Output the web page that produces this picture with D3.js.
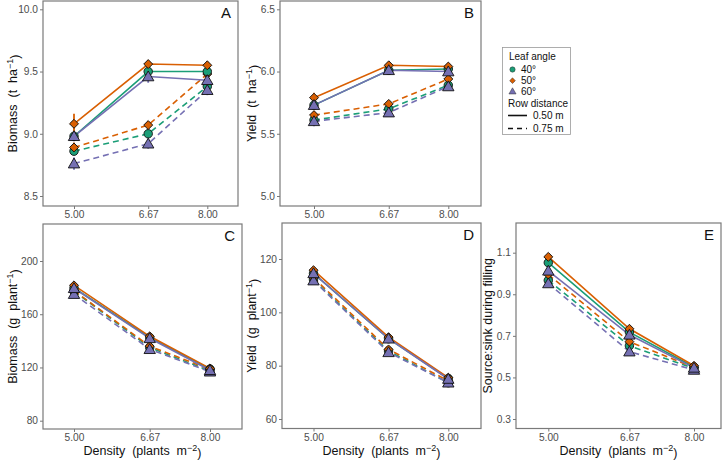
<!DOCTYPE html>
<html><head><meta charset="utf-8">
<script src="https://cdn.jsdelivr.net/npm/d3@7"></script>
<style>
html,body{margin:0;padding:0;background:#fff;}
svg{display:block;font-family:"Liberation Sans",Arial,Helvetica,sans-serif;}
</style></head>
<body>
<svg id="chart" width="723" height="461"></svg>
<script>
// ---------- data ----------
const densities = [5.00, 6.67, 8.00];
const xTickLabels = ["5.00", "6.67", "8.00"];
const leafAngles = ["40°", "50°", "60°"];
const rowDistances = ["0.50 m", "0.75 m"];

// rows: leaf angle 40°, 50°, 60°; columns: density 5.00, 6.67, 8.00
// Panel A: Biomass (t ha-1)
const biomassHa050 = [[8.98, 9.50, 9.50], [9.08, 9.56, 9.55], [8.98, 9.46, 9.43]];
const biomassHa075 = [[8.86, 9.00, 9.38], [8.89, 9.07, 9.48], [8.76, 8.92, 9.35]];
const biomassHaErr050 = [[0.03, 0.04, 0.03], [0.08, 0.03, 0.03], [0.04, 0.05, 0.03]];
const biomassHaErr075 = [[0.03, 0.03, 0.03], [0.04, 0.03, 0.05], [0.05, 0.04, 0.04]];
// Panel B: Yield (t ha-1)
const yieldHa050 = [[5.73, 6.01, 6.02], [5.79, 6.05, 6.04], [5.73, 6.01, 6.00]];
const yieldHa075 = [[5.61, 5.70, 5.89], [5.65, 5.74, 5.94], [5.60, 5.67, 5.88]];
const yieldHaErr050 = [[0.03, 0.02, 0.02], [0.04, 0.02, 0.02], [0.03, 0.03, 0.02]];
const yieldHaErr075 = [[0.03, 0.02, 0.02], [0.03, 0.02, 0.02], [0.04, 0.03, 0.02]];
// Panel C: Biomass (g plant-1)
const biomassPl050 = [[179.7, 142.5, 118.8], [181.7, 143.4, 119.3], [179.5, 141.9, 117.9]];
const biomassPl075 = [[177.3, 135.0, 117.3], [177.7, 136.0, 118.5], [175.1, 133.7, 116.8]];
// Panel D: Yield (g plant-1)
const yieldPl050 = [[114.6, 90.1, 75.2], [115.8, 90.7, 75.5], [114.6, 90.1, 75.0]];
const yieldPl075 = [[112.2, 85.5, 73.6], [113.0, 86.1, 74.3], [111.9, 85.0, 73.6]];
// Panel E: Source:sink during filling
const sourceSink050 = [[1.052, 0.718, 0.550], [1.080, 0.734, 0.556], [1.013, 0.705, 0.546]];
const sourceSink075 = [[0.967, 0.652, 0.543], [0.995, 0.672, 0.548], [0.952, 0.624, 0.536]];

const yTicksA = [8.5, 9.0, 9.5, 10.0];
const yTicksB = [5.0, 5.5, 6.0, 6.5];
const yTicksC = [80, 120, 160, 200];
const yTicksD = [60, 80, 100, 120];
const yTicksE = [0.3, 0.5, 0.7, 0.9, 1.1];

// ---------- styles ----------
const colors = ["#1b9e77", "#d95f02", "#7570b3"];
const shapes = [d3.symbolCircle, d3.symbolSquare, d3.symbolTriangle];
const shapeSize = [56, 40, 56];
const shapeRot = [0, 45, 0];
const borderCol = "#7a7a7a";
const tickTextCol = "#4d4d4d";

const svg = d3.select("#chart");

const panels = [
  {id: "A", box: [43, 1, 238, 206], xpx: [74, 207.3], ypx: [196, 9.3], yv: [8.5, 10.0], ticks: yTicksA, fmt: ".1f",
   s: biomassHa050, d: biomassHa075, es: biomassHaErr050, ed: biomassHaErr075, title: ["Biomass  (t  ha", "−1", ")"], tx: 13, xtitle: false},
  {id: "B", box: [280, 1, 481, 206], xpx: [314, 448.3], ypx: [196, 9.3], yv: [5.0, 6.5], ticks: yTicksB, fmt: ".1f",
   s: yieldHa050, d: yieldHa075, es: yieldHaErr050, ed: yieldHaErr075, title: ["Yield  (t  ha", "−1", ")"], tx: 252, xtitle: false},
  {id: "C", box: [43, 224, 242, 429], xpx: [74, 210], ypx: [420.7, 261], yv: [80, 200], ticks: yTicksC, fmt: "d",
   s: biomassPl050, d: biomassPl075, title: ["Biomass  (g  plant", "−1", ")"], tx: 13, xtitle: true},
  {id: "D", box: [282, 223, 481, 428.5], xpx: [313.5, 448.3], ypx: [419, 259], yv: [60, 120], ticks: yTicksD, fmt: "d",
   s: yieldPl050, d: yieldPl075, title: ["Yield  (g  plant", "−1", ")"], tx: 252, xtitle: true},
  {id: "E", box: [516, 223, 721, 428.5], xpx: [548.3, 694], ypx: [419, 252.7], yv: [0.3, 1.1], ticks: yTicksE, fmt: ".1f",
   s: sourceSink050, d: sourceSink075, title: ["Source:sink during filling"], tx: 488, xtitle: true}
];

panels.forEach(p => {
  const [x0, y0, x1, y1] = p.box;
  const x = d3.scaleLinear().domain([densities[0], densities[2]]).range(p.xpx);
  const y = d3.scaleLinear().domain(p.yv).range(p.ypx);
  const g = svg.append("g");

  // axes
  const yAxis = d3.axisLeft(y).tickValues(p.ticks).tickFormat(d3.format(p.fmt)).tickSize(3).tickPadding(2);
  const ya = g.append("g").attr("transform", `translate(${x0},0)`).call(yAxis);
  const xAxis = d3.axisBottom(x).tickValues(densities).tickFormat((d, i) => xTickLabels[i]).tickSize(3).tickPadding(2);
  const xa = g.append("g").attr("transform", `translate(0,${y1})`).call(xAxis);
  [ya, xa].forEach(a => {
    a.select(".domain").remove();
    a.selectAll(".tick line").attr("stroke", "#555").attr("stroke-width", 0.8);
    a.selectAll(".tick text").attr("fill", tickTextCol).attr("font-size", 10.2)
      .attr("font-family", "'Liberation Sans', Arial, sans-serif");
  });

  // box
  g.append("rect").attr("x", x0).attr("y", y0).attr("width", x1 - x0).attr("height", y1 - y0)
    .attr("fill", "none").attr("stroke", borderCol).attr("stroke-width", 1.2);

  // panel letter
  g.append("text").attr("x", x1 - 7).attr("y", y0 + 17).attr("text-anchor", "end")
    .attr("font-size", 15).attr("fill", "#111").text(p.id);

  // y title
  const cy = (y0 + y1) / 2;
  const t = g.append("text").attr("transform", `translate(${p.tx},${cy}) rotate(-90)`)
    .attr("text-anchor", "middle").attr("font-size", 12.5).attr("fill", "#111").attr("dy", "0.35em")
    .style("white-space", "pre");
  t.append("tspan").text(p.title[0]);
  if (p.title.length > 1) {
    t.append("tspan").attr("dy", "-0.5em").attr("font-size", 9).text(p.title[1]);
    t.append("tspan").attr("dy", "0.5em").text(p.title[2]);
  }

  // x title
  if (p.xtitle) {
    const xt = g.append("text").attr("x", (x0 + x1) / 2).attr("y", 455).attr("text-anchor", "middle")
      .attr("font-size", 12.5).attr("fill", "#111").style("white-space", "pre");
    xt.append("tspan").text("Density  (plants  m");
    xt.append("tspan").attr("dy", "-0.5em").attr("font-size", 9).text("−2");
    xt.append("tspan").attr("dy", "0.5em").text(")");
  }

  const line = d3.line().x((d, i) => x(densities[i])).y(d => y(d));
  const groups = [
    {vals: p.d, err: p.ed, dash: "6,4"},
    {vals: p.s, err: p.es, dash: null}
  ];
  // lines
  groups.forEach(gr => {
    gr.vals.forEach((v, k) => {
      g.append("path").attr("d", line(v)).attr("fill", "none").attr("stroke", colors[k])
        .attr("stroke-width", 1.6).attr("stroke-dasharray", gr.dash);
    });
  });
  // error bars
  groups.forEach(gr => {
    if (!gr.err) return;
    gr.vals.forEach((v, k) => {
      v.forEach((val, i) => {
        const e = gr.err[k][i];
        g.append("line").attr("x1", x(densities[i])).attr("x2", x(densities[i]))
          .attr("y1", y(val - e)).attr("y2", y(val + e))
          .attr("stroke", colors[k]).attr("stroke-width", 1.8);
      });
    });
  });
  // markers
  groups.forEach(gr => {
    gr.vals.forEach((v, k) => {
      v.forEach((val, i) => {
        g.append("path").attr("d", d3.symbol().type(shapes[k]).size(shapeSize[k])())
          .attr("transform", `translate(${x(densities[i])},${y(val) + (k === 2 ? 1 : 0)}) rotate(${shapeRot[k]})`)
          .attr("fill", colors[k]).attr("stroke", "#111").attr("stroke-width", 0.9);
      });
    });
  });
});

// ---------- legend ----------
const lg = svg.append("g");
lg.append("rect").attr("x", 502.5).attr("y", 47.5).attr("width", 68).attr("height", 87)
  .attr("fill", "#fff").attr("stroke", "#999").attr("stroke-width", 0.8);
lg.append("text").attr("x", 509).attr("y", 60).attr("font-size", 10).attr("fill", "#111").text("Leaf angle");
leafAngles.forEach((a, k) => {
  const yy = 69.5 + k * 11.2;
  lg.append("path").attr("d", d3.symbol().type(shapes[k]).size(k === 1 ? 16 : 22)())
    .attr("transform", `translate(512.5,${yy}) rotate(${shapeRot[k]})`).attr("fill", colors[k])
    .attr("stroke", "#333").attr("stroke-width", 0.5);
  lg.append("text").attr("x", 521).attr("y", yy + 3.5).attr("font-size", 10).attr("fill", "#111").text(a);
});
lg.append("text").attr("x", 508).attr("y", 107).attr("font-size", 10).attr("fill", "#111").text("Row distance");
rowDistances.forEach((r, k) => {
  const yy = 115.5 + k * 13;
  lg.append("line").attr("x1", 508).attr("x2", 527).attr("y1", yy).attr("y2", yy)
    .attr("stroke", "#111").attr("stroke-width", 1.6).attr("stroke-dasharray", k === 1 ? "5,4" : null);
  lg.append("text").attr("x", 533).attr("y", yy + 3.5).attr("font-size", 10).attr("fill", "#111").text(r);
});
</script>
</body></html>
